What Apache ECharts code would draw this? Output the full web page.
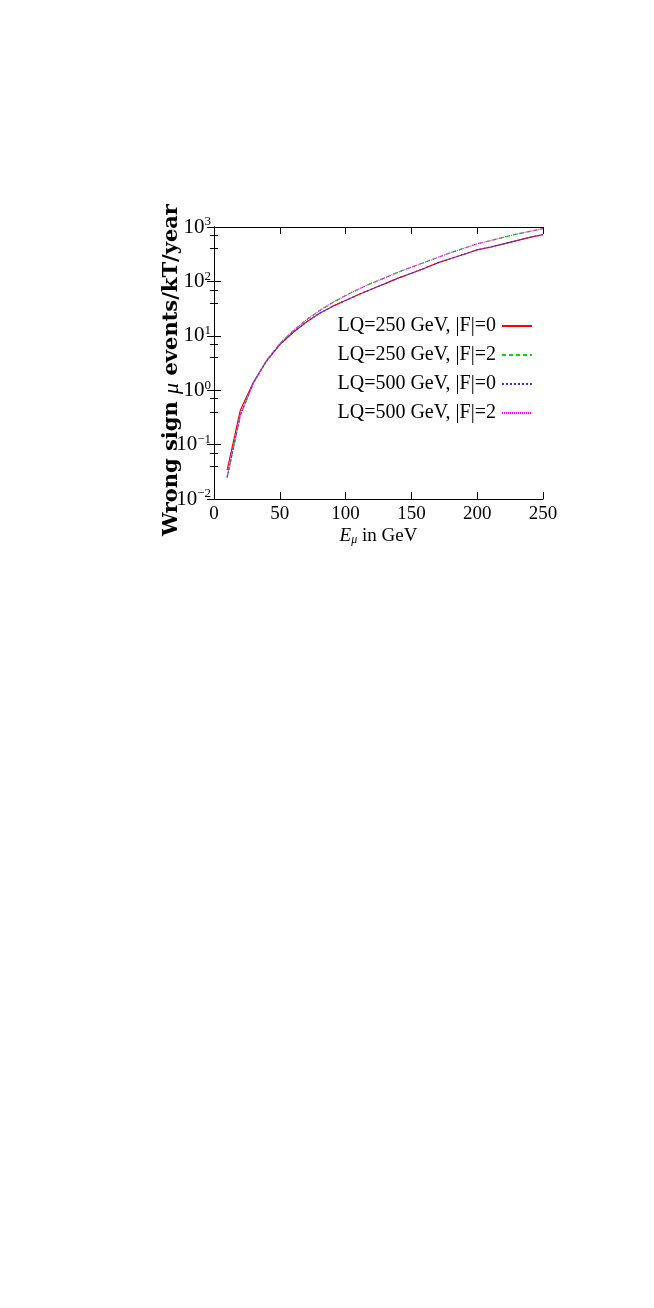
<!DOCTYPE html>
<html>
<head>
<meta charset="utf-8">
<script src="https://cdn.jsdelivr.net/npm/echarts@6/dist/echarts.min.js"></script>
<style>
  html, body { margin: 0; padding: 0; background: #fff; }
  #main { width: 654px; height: 1308px; }
</style>
</head>
<body>
<div id="main"></div>
<script>
// muon energy (GeV)
var energy = [10, 20, 30, 40, 50, 60, 70, 80, 90, 100, 110, 120, 130,
              140, 150, 160, 170, 180, 190, 200, 210, 220, 230, 240, 250];

// wrong sign mu events / kT / year
var lq250f0 = [0.034, 0.43, 1.41, 3.47, 6.9, 11.5, 17.8, 25.7, 34.7, 44.7, 57.5, 72.4, 91.2,
               115, 141, 174, 219, 263, 316, 380, 427, 490, 562, 646, 724];
var lq250f2 = [0.025, 0.35, 1.35, 3.55, 7.2, 12.3, 19.5, 28.8, 40.7, 55.0, 72.4, 93.3, 117,
               148, 182, 224, 275, 339, 407, 490, 562, 646, 741, 832, 933];
var lq500f0 = [0.025, 0.35, 1.38, 3.45, 6.9, 11.5, 17.8, 25.7, 34.7, 44.7, 57.5, 72.4, 91.2,
               115, 141, 174, 219, 263, 316, 380, 427, 490, 562, 646, 724];
var lq500f2 = [0.025, 0.35, 1.36, 3.55, 7.2, 12.3, 19.5, 28.8, 40.7, 55.0, 72.4, 93.3, 117,
               148, 182, 224, 275, 339, 407, 490, 562, 646, 741, 832, 933];

var names = ['LQ=250 GeV, |F|=0', 'LQ=250 GeV, |F|=2', 'LQ=500 GeV, |F|=0', 'LQ=500 GeV, |F|=2'];
var colors = ['#ff0000', '#00dd00', '#3030ff', '#ff00ff'];
var dashes = ['solid', [4, 3], [2, 2], [1, 1]];

function pairs(ys) {
  return energy.map(function (x, i) { return [x, ys[i]]; });
}

var serif = '"Liberation Serif", "DejaVu Serif", serif';

var myChart = echarts.init(document.getElementById('main'));

var option = {
  animation: false,
  grid: { left: 214, right: 111, top: 227, bottom: 809 },
  legend: {
    orient: 'vertical',
    right: 116,
    top: 311,
    align: 'right',
    itemWidth: 30,
    itemHeight: 14,
    itemGap: 9,
    itemStyle: { opacity: 0 },
    textStyle: { fontFamily: serif, fontSize: 20, color: '#000', padding: [0, 1, 0, 0] },
    data: names
  },
  xAxis: [
    {
      type: 'value', min: 0, max: 250, interval: 50,
      name: '{e|E}{m|μ}{t| in GeV}',
      nameLocation: 'middle', nameGap: 27,
      nameTextStyle: {
        rich: {
          e: { fontFamily: serif, fontSize: 19, fontStyle: 'italic', color: '#000' },
          m: { fontFamily: serif, fontSize: 12, fontStyle: 'italic', color: '#000', padding: [8, 0, 0, 0] },
          t: { fontFamily: serif, fontSize: 19, color: '#000' }
        }
      },
      axisLine: { lineStyle: { color: '#000', width: 1 } },
      axisTick: { inside: true, length: 7, lineStyle: { color: '#000' } },
      axisLabel: { fontFamily: serif, fontSize: 19, color: '#000', margin: 6 },
      splitLine: { show: false }
    },
    {
      type: 'value', min: 0, max: 250, interval: 50, position: 'top',
      axisLine: { lineStyle: { color: '#000', width: 1 } },
      axisTick: { inside: true, length: 7, lineStyle: { color: '#000' } },
      axisLabel: { show: false },
      splitLine: { show: false }
    }
  ],
  yAxis: [
    {
      type: 'log', logBase: 10, min: 0.01, max: 1000,
      name: '{b|Wrong sign }{m|μ}{b| events/kT/year}',
      nameLocation: 'middle', nameGap: 31, nameRotate: 90,
      nameMoveOverlap: false,
      nameTextStyle: {
        padding: [0, 14, 0, 0],
        rich: {
          b: { fontFamily: '"DejaVu Serif", serif', fontWeight: 'bold', fontSize: 21, color: '#000' },
          m: { fontFamily: serif, fontStyle: 'italic', fontSize: 22, color: '#000' }
        }
      },
      axisLine: { lineStyle: { color: '#000', width: 1 } },
      axisTick: { inside: true, length: 7, lineStyle: { color: '#000' } },
      minorTick: { show: true, splitNumber: 3, length: 4, lineStyle: { color: '#000' } },
      axisLabel: {
        margin: 3,
        formatter: function (v) {
          var e = Math.round(Math.log10(v));
          return '{b|10}{s|' + String(e).replace('-', '\u2212') + '}';
        },
        rich: {
          b: { fontFamily: serif, fontSize: 21, color: '#000' },
          s: { fontFamily: serif, fontSize: 13, color: '#000', padding: [0, 0, 10, 0] }
        }
      },
      splitLine: { show: false },
      minorSplitLine: { show: false }
    },
    {
      type: 'log', logBase: 10, min: 0.01, max: 1000, position: 'right',
      axisLine: { lineStyle: { color: '#000', width: 1 } },
      axisTick: { inside: true, length: 7, lineStyle: { color: '#000' } },
      minorTick: { show: true, splitNumber: 3, length: 4, lineStyle: { color: '#000' } },
      axisLabel: { show: false },
      splitLine: { show: false },
      minorSplitLine: { show: false }
    }
  ],
  series: [lq250f0, lq250f2, lq500f0, lq500f2].map(function (ys, i) {
    return {
      name: names[i],
      type: 'line',
      symbol: 'none',
      color: colors[i],
      lineStyle: { color: colors[i], width: 1.2, type: dashes[i] },
      data: pairs(ys)
    };
  })
};

myChart.setOption(option);
</script>
</body>
</html>
